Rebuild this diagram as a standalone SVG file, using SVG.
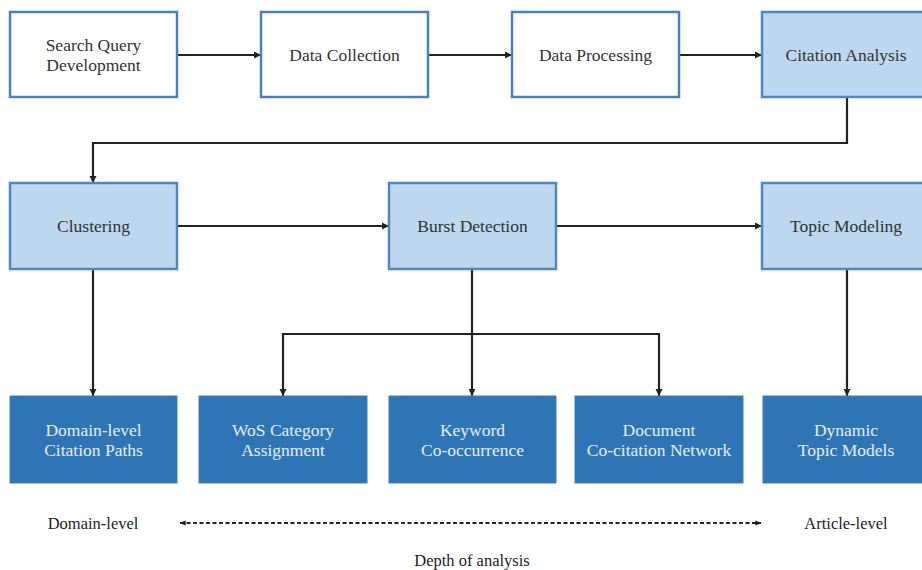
<svg xmlns="http://www.w3.org/2000/svg" width="922" height="570" viewBox="0 0 922 570">
  <style>
    text { font-family: "Liberation Serif", "DejaVu Serif", serif; font-size: 17.5px; text-anchor: middle; dominant-baseline: central; }
    .plain rect { fill: #ffffff; stroke: #4a7fc3; stroke-width: 2.5; }
    .light rect { fill: #bdd7ee; stroke: #4f86c6; stroke-width: 2.5; }
    .dark rect { fill: #2e75b6; stroke: #3a7fbf; stroke-width: 1; }
    .plain text, .light text { fill: #333333; }
    .dark text { fill: #e6eef8; }
    .flow { fill: none; stroke: #222222; stroke-width: 2.2; }
    .axis { fill: none; stroke: #222222; stroke-width: 1.8; stroke-dasharray: 4 2.5; }
    .caption { fill: #222222; font-size: 16.5px; }
  </style>
  <defs>
    <marker id="arrow" viewBox="0 0 10 10" refX="10" refY="5" markerWidth="3.2" markerHeight="3.2" orient="auto">
      <path d="M0,0 L10,5 L0,10 z" fill="#222222"/>
    </marker>
    <marker id="tip" viewBox="0 0 10 10" refX="9" refY="5" markerWidth="3.5" markerHeight="3.5" orient="auto-start-reverse">
      <path d="M0,1 L10,5 L0,9 z" fill="#222222"/>
    </marker>
  </defs>

  <!-- connectors -->
  <g id="connectors">
    <path class="flow" d="M177,55 H261" marker-end="url(#arrow)"/>
    <path class="flow" d="M428,55 H512" marker-end="url(#arrow)"/>
    <path class="flow" d="M679,55 H762" marker-end="url(#arrow)"/>
    <path class="flow" d="M847,97 V143 H93 V183" marker-end="url(#arrow)"/>
    <path class="flow" d="M177,226 H389" marker-end="url(#arrow)"/>
    <path class="flow" d="M556,226 H762" marker-end="url(#arrow)"/>
    <path class="flow" d="M93,269 V396" marker-end="url(#arrow)"/>
    <path class="flow" d="M472,269 V396" marker-end="url(#arrow)"/>
    <path class="flow" d="M472,334 H283 V396" marker-end="url(#arrow)"/>
    <path class="flow" d="M472,334 H659 V396" marker-end="url(#arrow)"/>
    <path class="flow" d="M847,269 V396" marker-end="url(#arrow)"/>
  </g>

  <!-- first row -->
  <g id="search-query" class="plain">
    <rect x="10" y="12" width="167" height="85"/>
    <text x="93.5" y="45">Search Query</text>
    <text x="93.5" y="65">Development</text>
  </g>
  <g id="data-collection" class="plain">
    <rect x="261" y="12" width="167" height="85"/>
    <text x="344.5" y="55">Data Collection</text>
  </g>
  <g id="data-processing" class="plain">
    <rect x="512" y="12" width="167" height="85"/>
    <text x="595.5" y="55">Data Processing</text>
  </g>
  <g id="citation-analysis" class="light">
    <rect x="762" y="12" width="172" height="85"/>
    <text x="846" y="55">Citation Analysis</text>
  </g>

  <!-- second row -->
  <g id="clustering" class="light">
    <rect x="10" y="183" width="167" height="86"/>
    <text x="93.5" y="226">Clustering</text>
  </g>
  <g id="burst-detection" class="light">
    <rect x="389" y="183" width="167" height="86"/>
    <text x="472.5" y="226">Burst Detection</text>
  </g>
  <g id="topic-modeling" class="light">
    <rect x="762" y="183" width="172" height="86"/>
    <text x="846" y="226">Topic Modeling</text>
  </g>

  <!-- third row -->
  <g id="citation-paths" class="dark">
    <rect x="10" y="396" width="167" height="87"/>
    <text x="93.5" y="430">Domain-level</text>
    <text x="93.5" y="450">Citation Paths</text>
  </g>
  <g id="wos-category" class="dark">
    <rect x="199" y="396" width="168" height="87"/>
    <text x="283" y="430">WoS Category</text>
    <text x="283" y="450">Assignment</text>
  </g>
  <g id="keyword" class="dark">
    <rect x="389" y="396" width="167" height="87"/>
    <text x="472.5" y="430">Keyword</text>
    <text x="472.5" y="450">Co-occurrence</text>
  </g>
  <g id="co-citation" class="dark">
    <rect x="575" y="396" width="168" height="87"/>
    <text x="659" y="430">Document</text>
    <text x="659" y="450">Co-citation Network</text>
  </g>
  <g id="dynamic-topics" class="dark">
    <rect x="763" y="396" width="171" height="87"/>
    <text x="846" y="430">Dynamic</text>
    <text x="846" y="450">Topic Models</text>
  </g>

  <!-- depth of analysis scale -->
  <g id="depth-scale">
    <path class="axis" d="M180,523 H761" marker-start="url(#tip)" marker-end="url(#tip)"/>
    <text class="caption" x="93" y="523">Domain-level</text>
    <text class="caption" x="846" y="523">Article-level</text>
    <text class="caption" x="472" y="560">Depth of analysis</text>
  </g>
</svg>
